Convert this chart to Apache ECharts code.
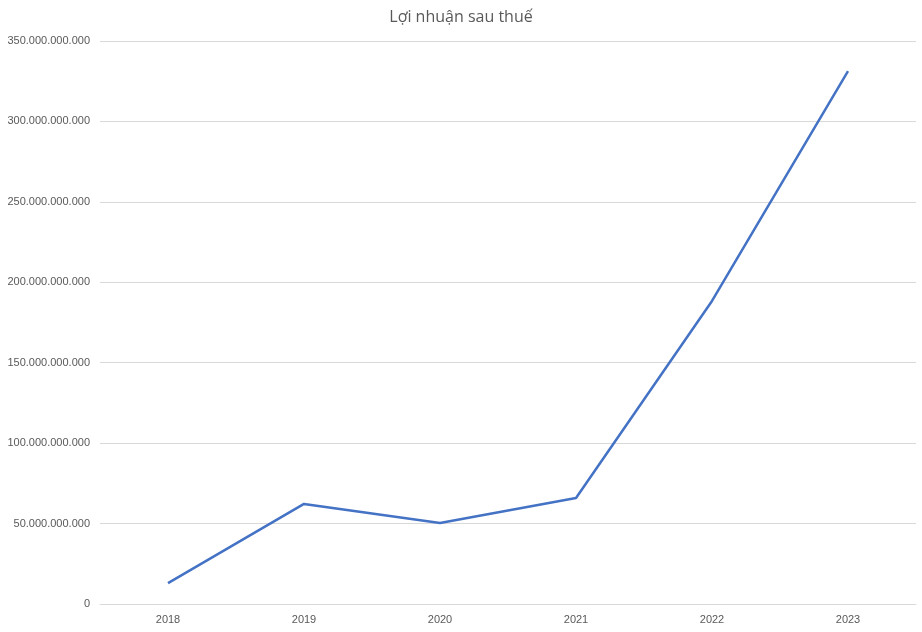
<!DOCTYPE html>
<html><head><meta charset="utf-8">
<script src="https://cdn.jsdelivr.net/npm/echarts@6/dist/echarts.min.js"></script>
<style>html,body{margin:0;padding:0;background:#fff}#c{width:922px;height:632px}</style>
</head><body><div id="c"></div>
<script>
const years = ['2018','2019','2020','2021','2022','2023'];
const profit = [13000000000, 62200000000, 50400000000, 65900000000, 188400000000, 331300000000];
const titleText = 'Lợi nhuận sau thuế';

function fmt(v){ return String(Math.round(v)).replace(/\B(?=(\d{3})+(?!\d))/g, '.'); }

const chart = echarts.init(document.getElementById('c'));
chart.setOption({
  animation: false,
  backgroundColor: '#fff',
  title: { text: titleText, left: 'center', top: 4,
    textStyle: { fontFamily: 'Open Sans, Noto Sans, sans-serif', fontSize: 16, fontWeight: 'normal', color: '#595959' } },
  grid: { left: 100, right: 6, top: 41, bottom: 28, containLabel: false },
  xAxis: { type: 'category', data: years, boundaryGap: true,
    axisLine: { lineStyle: { color: '#d9d9d9' } }, axisTick: { show: false },
    axisLabel: { color: '#595959', fontSize: 11, fontFamily: 'Liberation Sans, Arial, sans-serif', margin: 10 } },
  yAxis: { type: 'value', min: 0, max: 350000000000, interval: 50000000000,
    axisLine: { show: false }, axisTick: { show: false },
    splitLine: { lineStyle: { color: '#d9d9d9' } },
    axisLabel: { color: '#595959', fontSize: 11, fontFamily: 'Liberation Sans, Arial, sans-serif', margin: 10, formatter: fmt } },
  series: [{ type: 'line', data: profit, symbol: 'none',
    lineStyle: { color: '#4472C4', width: 2.5 }, itemStyle: { color: '#4472C4' } }]
});
</script></body></html>
